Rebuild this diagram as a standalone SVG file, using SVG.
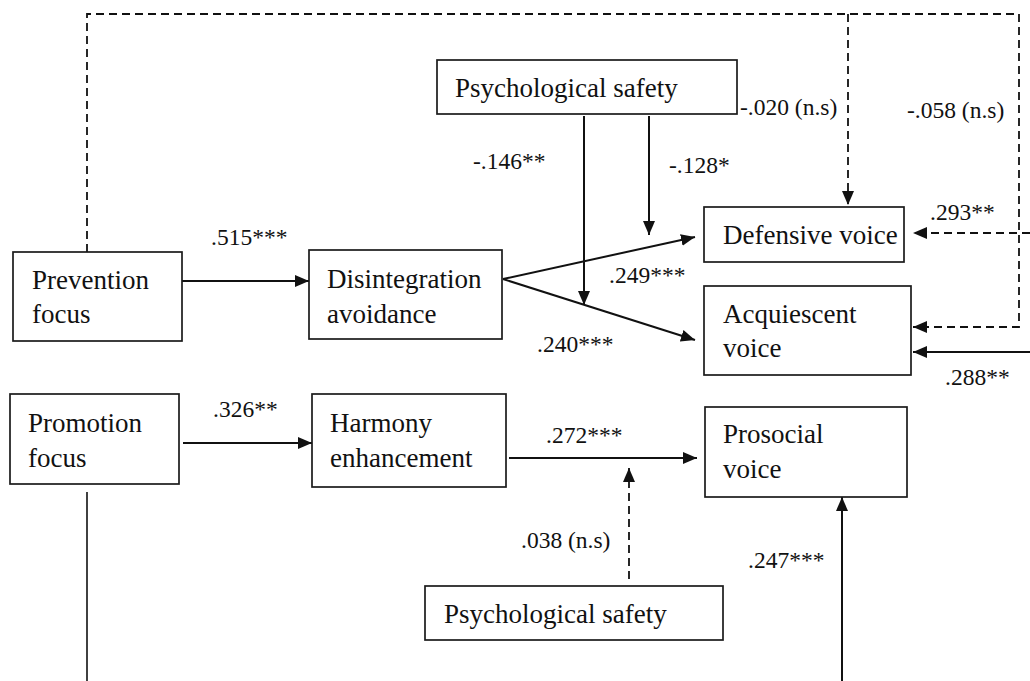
<svg xmlns="http://www.w3.org/2000/svg" width="1030" height="681" viewBox="0 0 1030 681">
<style>
.box{fill:#fff;stroke:#1a1a1a;stroke-width:1.7}
.t{font-family:"Liberation Serif","Times New Roman",serif;font-size:27px;fill:#111}
.lb{font-family:"Liberation Serif","Times New Roman",serif;font-size:23.5px;fill:#111}
.s{fill:none;stroke:#111;stroke-width:2}
.d{fill:none;stroke:#111;stroke-width:1.8;stroke-dasharray:8 5}
.thin{fill:none;stroke:#111;stroke-width:1.6}
</style>
<defs>
<marker id="ah" markerUnits="userSpaceOnUse" markerWidth="15" markerHeight="13" refX="14" refY="6.5" orient="auto">
<path d="M0,0.5 L14,6.5 L0,12.5 z" fill="#111"/>
</marker>
</defs>
<g id="connectors">
<path class="s" d="M182,281 L309,281" marker-end="url(#ah)"/>
<path class="s" d="M503,279 L695,237" marker-end="url(#ah)"/>
<path class="s" d="M503,279 L695,340" marker-end="url(#ah)"/>
<path class="s" d="M584,116 L584,305" marker-end="url(#ah)"/>
<path class="s" d="M649,116 L649,235" marker-end="url(#ah)"/>
<path class="d" d="M87,252 L87,14 L1019,14 L1019,327 L913,327" marker-end="url(#ah)"/>
<path class="d" d="M848,14 L848,205" marker-end="url(#ah)"/>
<path class="d" d="M1030,233 L913,233" marker-end="url(#ah)"/>
<path class="s" d="M1030,352 L913,352" marker-end="url(#ah)"/>
<path class="s" d="M183,443 L312,443" marker-end="url(#ah)"/>
<path class="s" d="M509,458 L697,458" marker-end="url(#ah)"/>
<path class="d" d="M629,579 L629,468" marker-end="url(#ah)"/>
<path class="s" d="M842,681 L842,497" marker-end="url(#ah)"/>
<path class="thin" d="M87,492 L87,681"/>
</g>
<g id="labels">
<text class="lb" x="211" y="245">.515***</text>
<text class="lb" x="473" y="169">-.146**</text>
<text class="lb" x="669" y="173">-.128*</text>
<text class="lb" x="740" y="115">-.020 (n.s)</text>
<text class="lb" x="907" y="118">-.058 (n.s)</text>
<text class="lb" x="930" y="220">.293**</text>
<text class="lb" x="609" y="283">.249***</text>
<text class="lb" x="537" y="352">.240***</text>
<text class="lb" x="945" y="385">.288**</text>
<text class="lb" x="213" y="417">.326**</text>
<text class="lb" x="546" y="443">.272***</text>
<text class="lb" x="521" y="548">.038 (n.s)</text>
<text class="lb" x="748" y="568">.247***</text>
</g>
<g id="psych-safety-top">
<rect class="box" x="437" y="60" width="300" height="54"/>
<text class="t" x="455" y="97">Psychological safety</text>
</g>
<g id="prevention-focus">
<rect class="box" x="13" y="252" width="169" height="89"/>
<text class="t" x="32" y="289">Prevention</text>
<text class="t" x="32" y="323">focus</text>
</g>
<g id="disintegration-avoidance">
<rect class="box" x="309" y="250" width="193" height="89"/>
<text class="t" x="327" y="288">Disintegration</text>
<text class="t" x="327" y="323">avoidance</text>
</g>
<g id="defensive-voice">
<rect class="box" x="704" y="207" width="200" height="55"/>
<text class="t" x="723" y="244">Defensive voice</text>
</g>
<g id="acquiescent-voice">
<rect class="box" x="704" y="286" width="207" height="89"/>
<text class="t" x="723" y="323">Acquiescent</text>
<text class="t" x="723" y="357">voice</text>
</g>
<g id="promotion-focus">
<rect class="box" x="10" y="394" width="169" height="90"/>
<text class="t" x="28" y="432">Promotion</text>
<text class="t" x="28" y="467">focus</text>
</g>
<g id="harmony-enhancement">
<rect class="box" x="312" y="394" width="194" height="93"/>
<text class="t" x="330" y="432">Harmony</text>
<text class="t" x="330" y="467">enhancement</text>
</g>
<g id="prosocial-voice">
<rect class="box" x="705" y="407" width="202" height="90"/>
<text class="t" x="723" y="443">Prosocial</text>
<text class="t" x="723" y="478">voice</text>
</g>
<g id="psych-safety-bottom">
<rect class="box" x="425" y="586" width="298" height="54"/>
<text class="t" x="444" y="623">Psychological safety</text>
</g>
</svg>
